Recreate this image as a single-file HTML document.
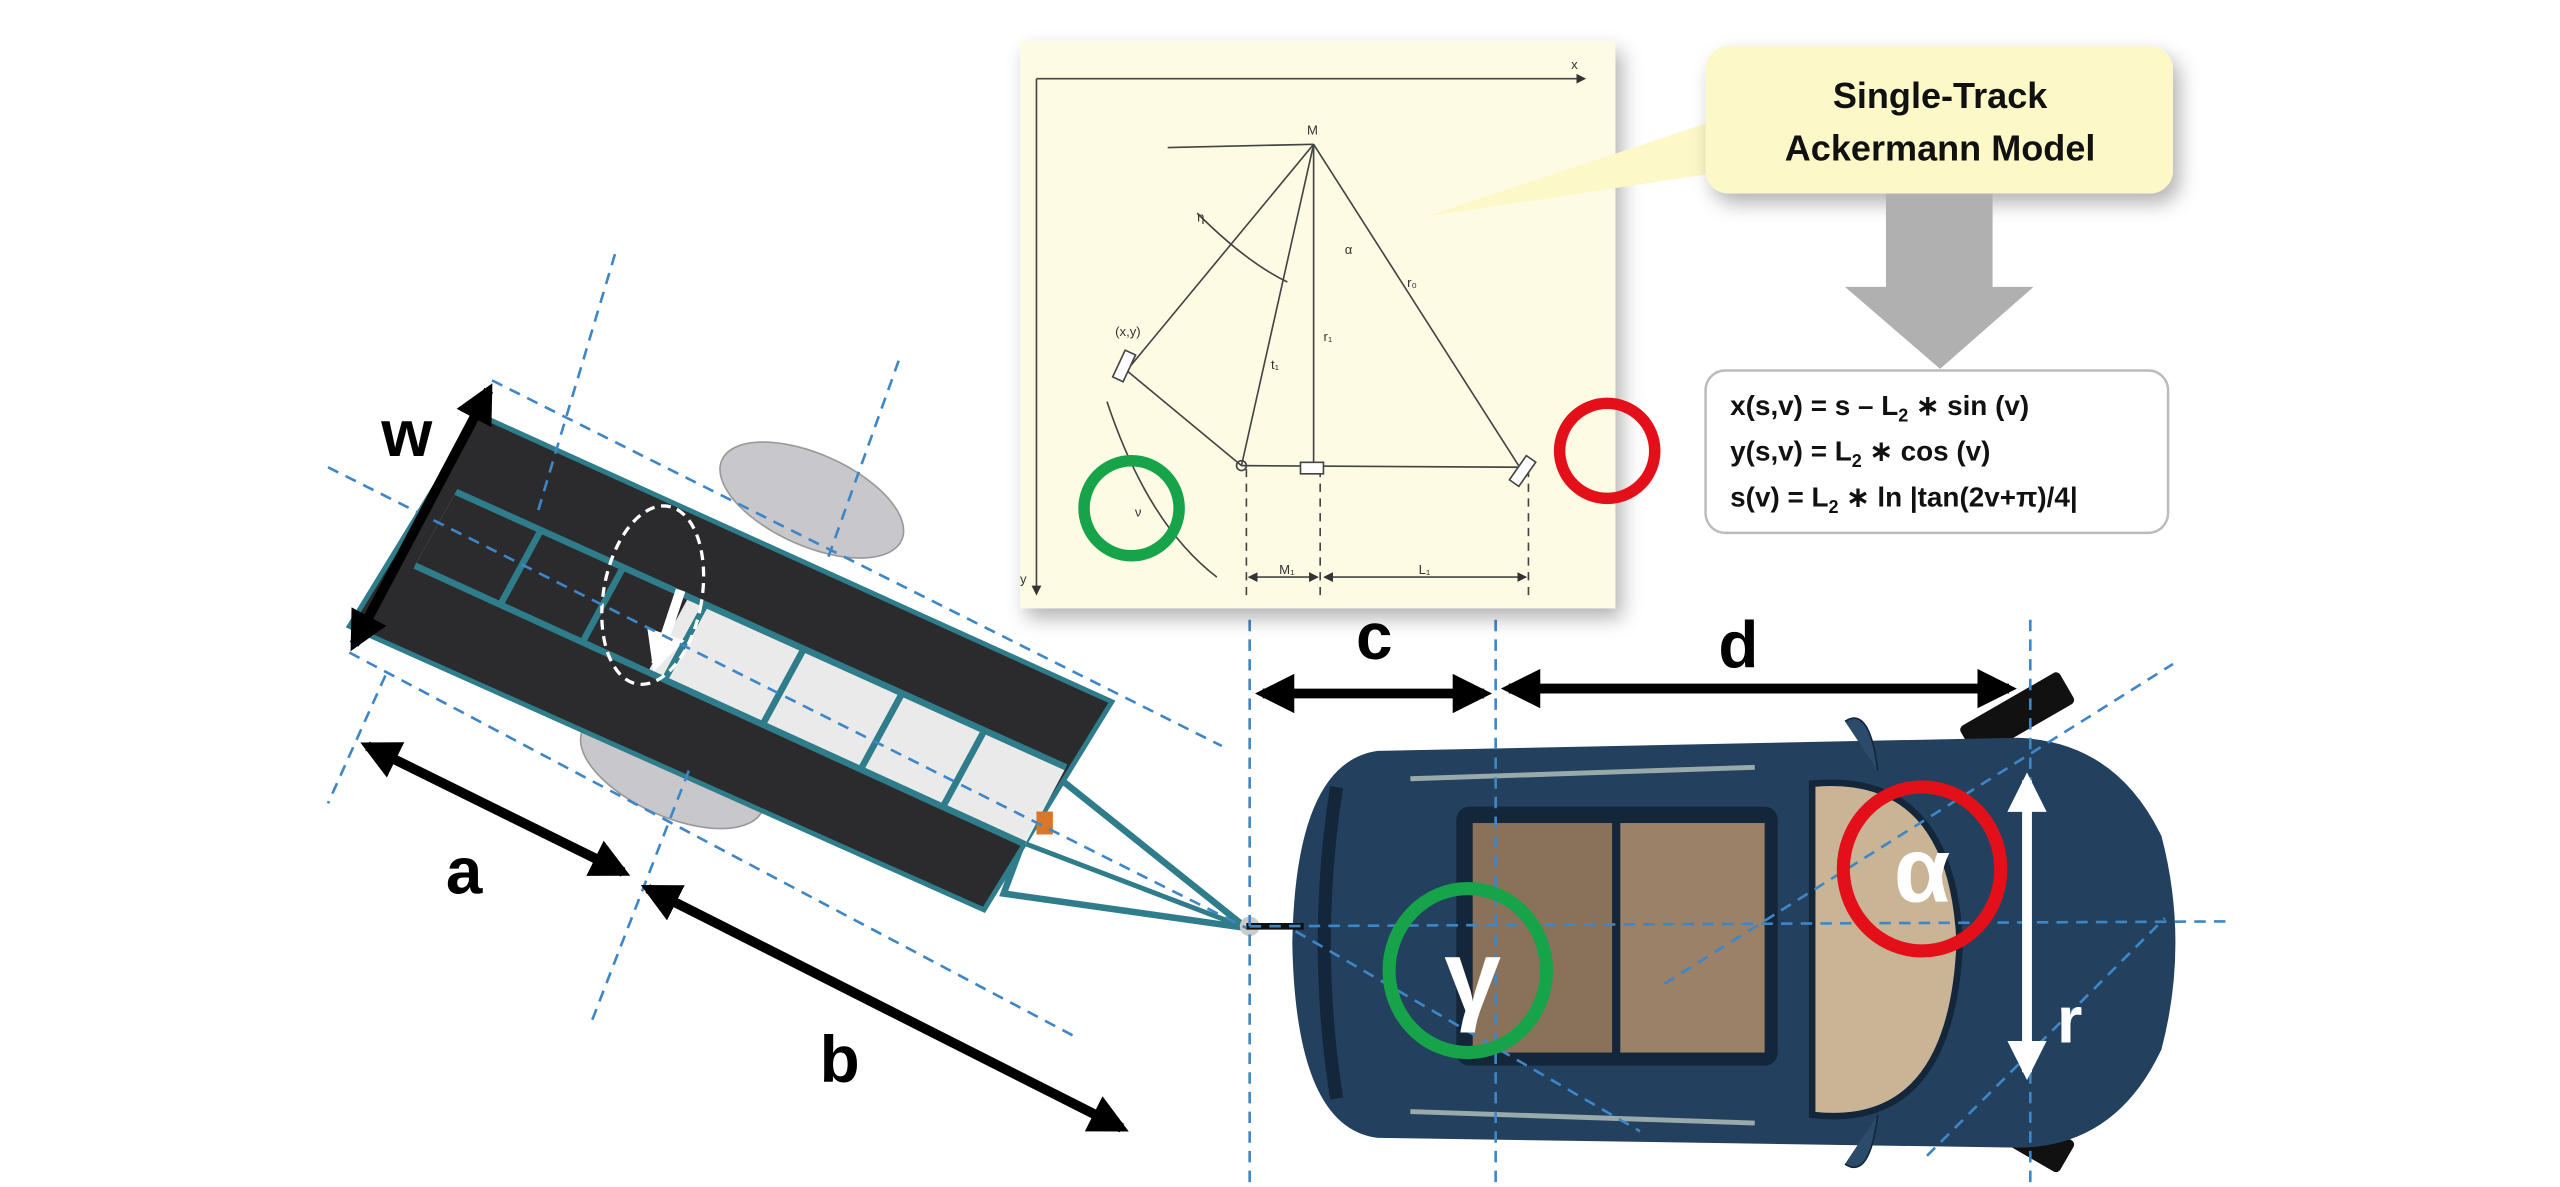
<!DOCTYPE html>
<html><head><meta charset="utf-8"><style>
html,body{margin:0;padding:0;background:#fff;}
svg{display:block;}
text{font-family:"Liberation Sans",sans-serif;}
</style></head><body>
<svg width="2560" height="1187" viewBox="0 0 1561 724" preserveAspectRatio="none" xmlns="http://www.w3.org/2000/svg">
<defs>
<marker id="ab" viewBox="0 0 10 10" refX="8" refY="5" markerWidth="4" markerHeight="4" orient="auto-start-reverse"><path d="M0,0 L10,5 L0,10 z" fill="#000"/></marker>
<marker id="aw" viewBox="0 0 10 10" refX="8" refY="5" markerWidth="4" markerHeight="4" orient="auto-start-reverse"><path d="M0,0 L10,5 L0,10 z" fill="#fff"/></marker>
<marker id="sm" viewBox="0 0 10 10" refX="8" refY="5" markerWidth="6" markerHeight="6" orient="auto-start-reverse"><path d="M0,0 L10,5 L0,10 z" fill="#333"/></marker>
<filter id="sh" x="-10%" y="-10%" width="130%" height="130%"><feDropShadow dx="4" dy="6" stdDeviation="6" flood-color="#000" flood-opacity="0.3"/></filter>
</defs>

<!-- Trailer -->
<ellipse cx="495" cy="305" rx="60" ry="28" transform="rotate(24 495 305)" fill="#c8c8cc" stroke="#999"/>
<ellipse cx="410" cy="470" rx="60" ry="28" transform="rotate(24 410 470)" fill="#c8c8cc" stroke="#999"/>
<polygon points="640,470 612,545 760,566" fill="none" stroke="#2f7d8a" stroke-width="4"/>
<line x1="600" y1="505" x2="760" y2="566" stroke="#2f7d8a" stroke-width="3"/>
<polygon points="292,253 678,428 600,555 213,382" fill="#2b2b2d" stroke="#2f7d8a" stroke-width="3"/>
<polygon points="278,300 650,468 625,515 253,345" fill="#fff" opacity="0.9"/>
<polygon points="278,300 420,364 395,410 253,345" fill="#2b2b2d"/>
<g stroke="#2f7d8a" stroke-width="4">
<line x1="278" y1="300" x2="650" y2="468"/><line x1="253" y1="345" x2="625" y2="515"/>
<line x1="330" y1="323" x2="305" y2="369"/><line x1="380" y1="346" x2="355" y2="392"/>
<line x1="430" y1="369" x2="405" y2="415"/><line x1="490" y1="396" x2="465" y2="442"/>
<line x1="550" y1="423" x2="525" y2="469"/><line x1="600" y1="446" x2="575" y2="492"/>
</g>
<rect x="632" y="495" width="10" height="14" fill="#d9762a"/>
<ellipse cx="398" cy="363" rx="30" ry="55" transform="rotate(10 398 363)" fill="none" stroke="#fff" stroke-width="2" stroke-dasharray="6,4"/>
<line x1="415" y1="360" x2="400" y2="405" stroke="#fff" stroke-width="6" marker-end="url(#aw)"/>

<!-- Car -->
<rect x="1195" y="425" width="70" height="22" rx="3" fill="#111" transform="rotate(-30 1230 436)"/>
<rect x="1195" y="678" width="70" height="22" rx="3" fill="#111" transform="rotate(30 1230 689)"/>
<path d="M840,458 Q790,465 788,575 Q790,688 840,694 L1230,700 Q1290,700 1318,640 Q1335,575 1318,510 Q1290,452 1230,450 Z" fill="#23405e"/>
<path d="M815,480 Q800,575 815,670" stroke="#14263a" stroke-width="8" fill="none"/>
<rect x="888" y="492" width="196" height="158" rx="8" fill="#14263a"/>
<rect x="898" y="502" width="85" height="140" fill="#8a725a"/>
<rect x="988" y="502" width="88" height="140" fill="#9a8168"/>
<path d="M1105,478 Q1190,470 1195,575 Q1190,690 1105,680 Z" fill="#c9b595" stroke="#14263a" stroke-width="4"/>
<path d="M1125,440 Q1140,430 1145,470" fill="#2c4a6a" stroke="#14263a"/>
<path d="M1125,710 Q1140,720 1145,680" fill="#2c4a6a" stroke="#14263a"/>
<line x1="860" y1="475" x2="1070" y2="468" stroke="#9aa" stroke-width="3"/>
<line x1="860" y1="678" x2="1070" y2="685" stroke="#9aa" stroke-width="3"/>
<circle cx="762" cy="565" r="6" fill="#ccc"/>
<line x1="760" y1="565" x2="795" y2="565" stroke="#111" stroke-width="4"/>

<!-- Dashed guide lines -->
<g stroke="#3f86c6" stroke-width="1.6" stroke-dasharray="7,5" fill="none">
<line x1="762" y1="378" x2="762" y2="722"/>
<line x1="912" y1="378" x2="912" y2="722"/>
<line x1="1238" y1="378" x2="1238" y2="722"/>
<line x1="762" y1="565" x2="1360" y2="562"/>
<line x1="1015" y1="600" x2="1325" y2="405"/>
<line x1="1175" y1="705" x2="1320" y2="560"/>
<line x1="790" y1="568" x2="1000" y2="690"/>
<line x1="200" y1="285" x2="760" y2="566"/>
<line x1="300" y1="232" x2="745" y2="455"/>
<line x1="213" y1="398" x2="655" y2="632"/>
<line x1="375" y1="155" x2="328" y2="312"/>
<line x1="548" y1="220" x2="505" y2="340"/>
<line x1="235" y1="412" x2="200" y2="490"/>
<line x1="420" y1="470" x2="360" y2="625"/>
</g>

<!-- Dimension arrows -->
<g stroke="#000" stroke-width="6">
<line x1="298" y1="238" x2="216" y2="393" marker-start="url(#ab)" marker-end="url(#ab)"/>
<line x1="224" y1="455" x2="380" y2="532" marker-start="url(#ab)" marker-end="url(#ab)"/>
<line x1="395" y1="542" x2="684" y2="688" marker-start="url(#ab)" marker-end="url(#ab)"/>
<line x1="770" y1="423" x2="905" y2="423" marker-start="url(#ab)" marker-end="url(#ab)"/>
<line x1="920" y1="420" x2="1225" y2="420" marker-start="url(#ab)" marker-end="url(#ab)"/>
</g>
<line x1="1236" y1="476" x2="1236" y2="654" stroke="#fff" stroke-width="6" marker-start="url(#aw)" marker-end="url(#aw)"/>
<g font-weight="bold" font-size="40" fill="#000" text-anchor="middle">
<text x="248" y="278">w</text>
<text x="283" y="545">a</text>
<text x="512" y="660">b</text>
<text x="838" y="402">c</text>
<text x="1060" y="407">d</text>
<text x="1262" y="636" fill="#fff">r</text>
</g>
<ellipse cx="895" cy="592" rx="48" ry="50" fill="none" stroke="#17a34a" stroke-width="8"/>
<text x="898" y="617" font-size="62" font-weight="bold" fill="#fff" text-anchor="middle">γ</text>
<ellipse cx="1172" cy="530" rx="48" ry="50" fill="none" stroke="#e3101a" stroke-width="8"/>
<text x="1172" y="550" font-size="56" font-weight="bold" fill="#fff" text-anchor="middle">α</text>

<!-- Ackermann diagram panel -->
<rect x="622" y="25" width="363" height="346" fill="#fdfbe3" filter="url(#sh)"/>
<g stroke="#444" stroke-width="1" fill="none">
<line x1="632" y1="48" x2="966" y2="48" marker-end="url(#sm)"/>
<line x1="632" y1="48" x2="632" y2="362" marker-end="url(#sm)"/>
<line x1="712" y1="90" x2="801" y2="88"/>
<line x1="801" y1="88" x2="687" y2="226"/>
<line x1="801" y1="88" x2="757" y2="284"/>
<line x1="801" y1="88" x2="801" y2="284"/>
<line x1="801" y1="88" x2="926" y2="284"/>
<line x1="757" y1="284" x2="930" y2="285"/>
<line x1="687" y1="226" x2="757" y2="284"/>
<path d="M730,130 Q760,160 785,172"/>
<path d="M675,245 Q700,320 742,352"/>
<g stroke-dasharray="5,4"><line x1="760" y1="286" x2="760" y2="365"/><line x1="805" y1="286" x2="805" y2="365"/><line x1="932" y1="286" x2="932" y2="365"/></g>
<line x1="762" y1="352" x2="803" y2="352" marker-start="url(#sm)" marker-end="url(#sm)"/>
<line x1="808" y1="352" x2="930" y2="352" marker-start="url(#sm)" marker-end="url(#sm)"/>
</g>
<rect x="682" y="214" width="7" height="18" fill="#fff" stroke="#444" transform="rotate(25 685 223)"/>
<rect x="793" y="282" width="14" height="7" fill="#fff" stroke="#444"/>
<rect x="925" y="278" width="7" height="18" fill="#fff" stroke="#444" transform="rotate(35 928 287)"/>
<circle cx="757" cy="284" r="3" fill="none" stroke="#444"/>
<g font-size="8" fill="#333">
<text x="958" y="42">x</text><text x="797" y="82">M</text><text x="622" y="356">y</text>
<text x="730" y="135">η</text><text x="820" y="155">α</text><text x="858" y="175">r₀</text>
<text x="807" y="208">r₁</text><text x="775" y="225">t₁</text><text x="680" y="205">(x,y)</text>
<text x="692" y="315">ν</text><text x="780" y="350">M₁</text><text x="865" y="350">L₁</text>
</g>
<circle cx="690" cy="310" r="29" fill="none" stroke="#17a34a" stroke-width="7"/>
<circle cx="980" cy="275" r="29" fill="none" stroke="#e3101a" stroke-width="7"/>

<!-- Callout -->
<path d="M1050,72 L870,132 L1050,105 Z" fill="#fcf8c8"/>
<rect x="1040" y="28" width="285" height="90" rx="14" fill="#fcf8c8" filter="url(#sh)"/>
<text x="1183" y="66" font-size="22" font-weight="bold" text-anchor="middle" fill="#111">Single-Track</text>
<text x="1183" y="98" font-size="22" font-weight="bold" text-anchor="middle" fill="#111">Ackermann Model</text>
<!-- Gray arrow -->
<polygon points="1150,118 1215,118 1215,175 1240,175 1183,225 1125,175 1150,175" fill="#b0b0b0"/>
<!-- Formula box -->
<rect x="1040" y="226" width="282" height="99" rx="12" fill="#fff" stroke="#bbb" stroke-width="1.5"/>
<g font-size="17" font-weight="bold" fill="#111">
<text x="1055" y="253">x(s,v) = s – L<tspan font-size="11" dy="4">2</tspan><tspan dy="-4"> ∗ sin (v)</tspan></text>
<text x="1055" y="281">y(s,v) = L<tspan font-size="11" dy="4">2</tspan><tspan dy="-4"> ∗ cos (v)</tspan></text>
<text x="1055" y="309">s(v) = L<tspan font-size="11" dy="4">2</tspan><tspan dy="-4"> ∗ ln |tan(2v+π)/4|</tspan></text>
</g>
</svg>
</body></html>
